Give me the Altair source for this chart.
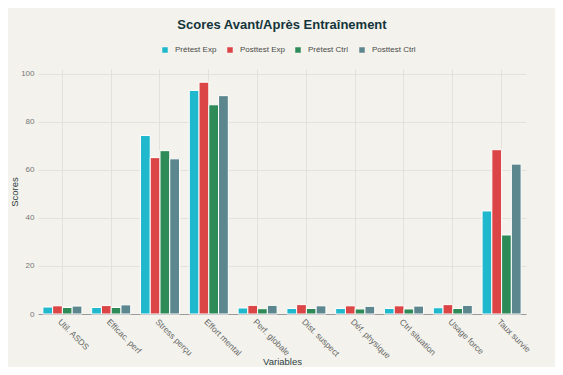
import altair as alt
import pandas as pd

categories = ["Util. ASDS", "Efficac. perf", "Stress perçu", "Effort mental", "Perf. globale",
              "Dist. suspect", "Déf. physique", "Ctrl situation", "Usage force", "Taux survie"]
series = ["Prétest Exp", "Posttest Exp", "Prétest Ctrl", "Posttest Ctrl"]
pretest_exp = [2.9, 2.7, 74.3, 93.1, 2.5, 2.3, 2.3, 2.3, 2.6, 42.9]
posttest_exp = [3.4, 3.5, 65.1, 96.5, 3.6, 3.9, 3.4, 3.4, 3.9, 68.4]
pretest_ctrl = [2.7, 2.7, 68.0, 87.1, 2.2, 2.3, 2.1, 2.1, 2.3, 32.9]
posttest_ctrl = [3.3, 3.8, 64.6, 90.9, 3.6, 3.4, 3.2, 3.3, 3.6, 62.4]
colors = ["#1FB8CD", "#DB4545", "#2E8B57", "#5D878F"]

rows = []
for s, vals in zip(series, [pretest_exp, posttest_exp, pretest_ctrl, posttest_ctrl]):
    for c, v in zip(categories, vals):
        rows.append({"Variable": c, "Groupe": s, "Score": v})
df = pd.DataFrame(rows)

FONT = "Liberation Sans"

chart = alt.Chart(df).mark_bar(stroke="white", strokeWidth=1).encode(
    x=alt.X("Variable:N", sort=categories, title="Variables",
            scale=alt.Scale(paddingInner=0.2, paddingOuter=0.1),
            axis=alt.Axis(labelAngle=45, grid=True, ticks=False, domainColor="#9a9a9a",
                          labelColor="#666666", labelFontSize=8.5, titleFontSize=9.5,
                          titleColor="#2f3f44", titleFontWeight="normal", labelPadding=3,
                          titleY=42)),
    xOffset=alt.XOffset("Groupe:N", sort=series, scale=alt.Scale(paddingInner=0, paddingOuter=0)),
    y=alt.Y("Score:Q", title="Scores", scale=alt.Scale(domain=[0, 102], nice=False),
            axis=alt.Axis(values=[0, 20, 40, 60, 80, 100], ticks=False, domain=False,
                          labelColor="#777777", labelFontSize=8, titleFontSize=9.5,
                          titleColor="#2f3f44", titleFontWeight="normal", labelPadding=4,
                          titleX=-19)),
    color=alt.Color("Groupe:N", sort=series, scale=alt.Scale(domain=series, range=colors),
                    legend=alt.Legend(title=None, orient="none", direction="horizontal",
                                      legendX=123, legendY=-23, symbolType="square",
                                      symbolSize=30, labelFontSize=8, labelColor="#4a4a4a",
                                      labelOffset=6, columnPadding=9, symbolStrokeWidth=0)),
).properties(
    width=488, height=245,
    title=alt.TitleParams("Scores Avant/Après Entraînement", fontSize=13, fontWeight="bold",
                          color="#13343B", anchor="middle", offset=14, font=FONT),
    autosize=alt.AutoSizeParams(type="none"),
    padding={"left": 30, "top": 61, "right": 29, "bottom": 53},
    background="#F3F2EC",
).configure(font=FONT).configure_axis(gridColor="#E3E3DE", gridWidth=1).configure_view(stroke=None)

chart.save("out.html", embed_options={"renderer": "svg", "actions": False})
